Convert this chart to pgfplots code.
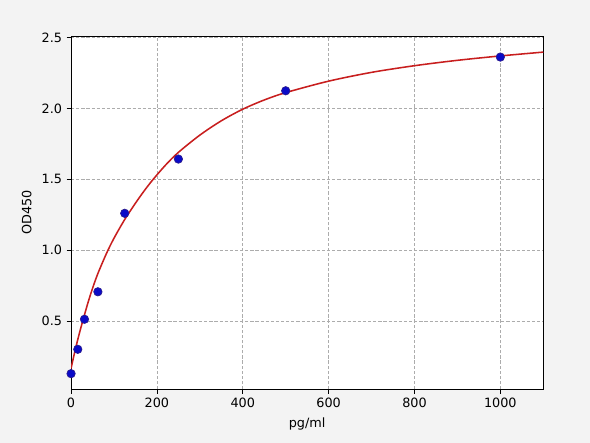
\documentclass[border=0pt]{standalone}
\usepackage{fontspec}
\setmainfont{DejaVu Sans}
\usepackage{pgfplots}
\pgfplotsset{compat=1.18}
\definecolor{figbg}{HTML}{F3F3F3}
\definecolor{fitred}{HTML}{C81E1E}
\definecolor{dotblue}{HTML}{0A0AC8}
\definecolor{dotedge}{HTML}{2A1A8A}
\begin{document}
\begin{tikzpicture}
\fill[figbg] (0,0) rectangle (460.8pt,345.6pt);
\begin{axis}[
    at={(55.5pt,41.6pt)}, anchor=south west,
    scale only axis,
    width=368.8pt, height=275.8pt,
    xmin=0, xmax=1100,
    ymin=0.018, ymax=2.511,
    xtick={0,200,400,600,800,1000},
    ytick={0.5,1.0,1.5,2.0,2.5},
    yticklabel style={/pgf/number format/.cd, fixed, fixed zerofill, precision=1},
    /pgf/number format/assume math mode=true,
    xticklabel style={/pgf/number format/1000 sep={}},
    tick align=outside, xtick pos=bottom, ytick pos=left,
    major tick length=3.5pt,
    tick style={black, line width=0.6pt},
    axis line style={black, line width=0.8pt},
    axis background/.style={fill=white},
    grid=major,
    grid style={gray!65, dash pattern=on 2.5pt off 1.5pt, line width=0.5pt},
    tick label style={font=\fontsize{10}{12}\selectfont},
    label style={font=\fontsize{10}{12}\selectfont},
    xlabel={pg/ml}, ylabel={OD450},
    xlabel style={yshift=-1pt},
    ylabel style={yshift=1pt},
    clip=true,
]
% fitted curve
\addplot[fitred, line width=1.2pt, smooth] coordinates {
    (0,0.165) (10,0.30) (20,0.42) (30,0.53) (40,0.635) (50,0.73)
    (62.5,0.835) (83,0.98) (100,1.084) (125,1.2165) (150,1.3315)
    (170,1.417) (190,1.495) (220,1.600) (250,1.690) (300,1.812)
    (350,1.913) (400,1.995) (450,2.060) (500,2.112) (600,2.193)
    (700,2.255) (800,2.302) (900,2.340) (1000,2.371) (1100,2.398)
};
% standards
\addplot[only marks, mark=*, mark size=3.3pt,
    mark options={fill=dotblue, draw=dotedge, line width=0.5pt}] coordinates {
    (0,0.128) (15.6,0.30) (31.25,0.512) (62.5,0.706)
    (125,1.26) (250,1.643) (500,2.125) (1000,2.363)
};
\end{axis}
\pgfresetboundingbox
\path (0,0) rectangle (460.8pt,345.6pt);
\end{tikzpicture}
\end{document}
